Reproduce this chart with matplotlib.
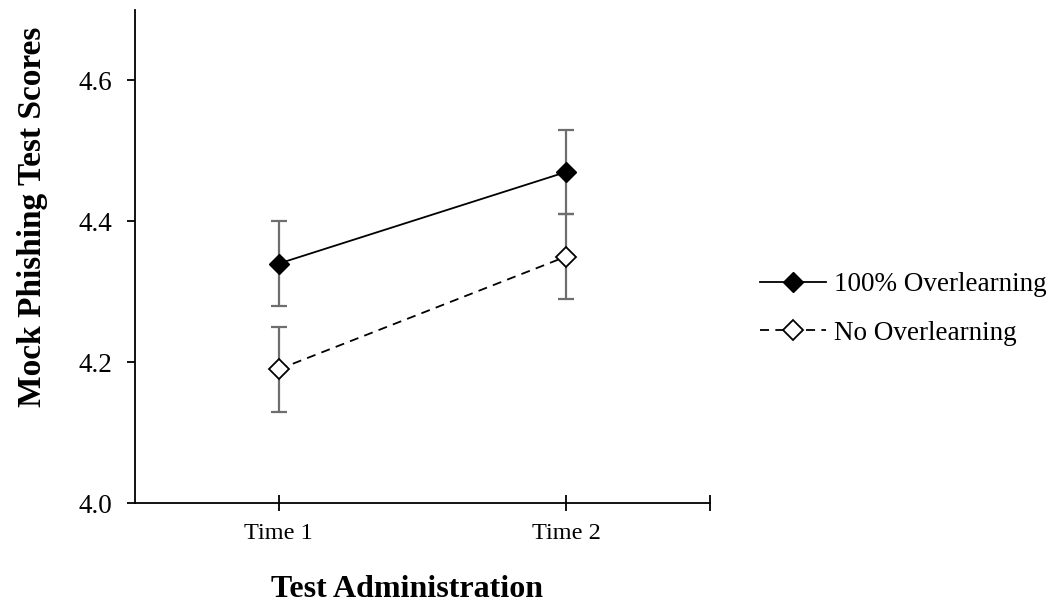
import numpy as np
import matplotlib
matplotlib.use('Agg')
import matplotlib.pyplot as plt

plt.rcParams['font.family'] = ['Liberation Serif', 'DejaVu Serif']

times = ['Time 1', 'Time 2']
over_mean = [4.34, 4.47]
over_err = [0.06, 0.06]
none_mean = [4.19, 4.35]
none_err = [0.06, 0.06]
yticks = [4.0, 4.2, 4.4, 4.6]

x = np.arange(1, len(times) + 1)

fig = plt.figure(figsize=(10.53, 6.07), dpi=100)
ax = fig.add_axes([0.128, 0.171, 0.546, 0.8125])

errc = '#6e6e6e'
ax.errorbar(x, over_mean, yerr=over_err, fmt='none', ecolor=errc, elinewidth=1.6,
            capsize=5.5, capthick=1.6, zorder=2)
ax.errorbar(x, none_mean, yerr=none_err, fmt='none', ecolor=errc, elinewidth=1.6,
            capsize=5.5, capthick=1.6, zorder=2)
ax.plot(x, over_mean, color='black', lw=1.3, marker='D', ms=10.5,
        mfc='black', mec='black', label='100% Overlearning', zorder=3)
ax.plot(x, none_mean, color='black', lw=1.3, ls=(0, (5, 3.5)), marker='D', ms=10.5,
        mfc='white', mec='black', mew=1.3, label='No Overlearning', zorder=3)

ax.set_xlim(0.5, 2.5)
ax.set_ylim(4.0, 4.7)
ax.set_xticks([1, 2, 2.5])
ax.set_xticklabels(times + [''])
ax.set_yticks(yticks)
ax.set_yticklabels(['%.1f' % v for v in yticks])
ax.tick_params(axis='x', direction='inout', length=12, width=1.3, labelsize=17.5, pad=8)
ax.tick_params(axis='y', direction='out', length=6, width=1.3, labelsize=19.5, pad=10)
for s in ['top', 'right']:
    ax.spines[s].set_visible(False)
for s in ['left', 'bottom']:
    ax.spines[s].set_linewidth(1.3)

ax.set_xlabel('Test Administration', fontsize=23, fontweight='bold')
ax.set_ylabel('Mock Phishing Test Scores', fontsize=24, fontweight='bold')
ax.xaxis.set_label_coords(0.473, -0.146)
ax.yaxis.set_label_coords(-0.151, 0.58)

fig.legend(*ax.get_legend_handles_labels(), loc='center left',
           bbox_to_anchor=(760 / 1053, 1 - 309 / 607), frameon=False, fontsize=19.5,
           handlelength=2.45, labelspacing=0.88, handletextpad=0.3,
           borderpad=0, borderaxespad=0)

fig.savefig('out.png', dpi=100)
